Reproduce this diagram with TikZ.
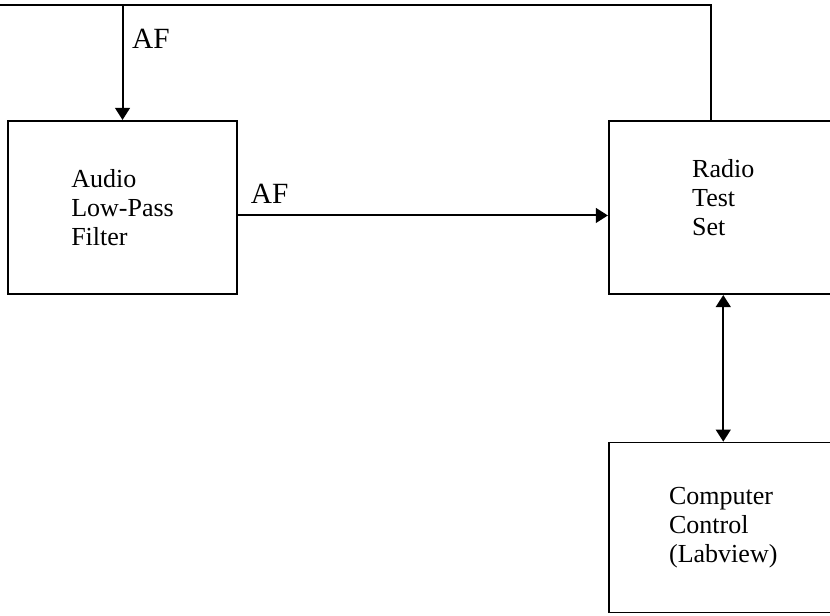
\documentclass[tikz,border=0pt]{standalone}
\usepackage{fontspec}
\setmainfont{Liberation Serif}
\usepackage{tikz}
\usetikzlibrary{arrows.meta,positioning}

\begin{document}
\begin{tikzpicture}[
  node distance=110pt and 277.5pt,
  block/.style={draw,line width=1.3pt,minimum width=171.75pt,minimum height=130pt,
    align=left,font=\fontsize{19.5}{21.75}\selectfont},
  lbl/.style={font=\fontsize{22}{24}\selectfont,inner sep=0pt},
  arrow/.style={-{Triangle[length=9pt,width=11pt]},line width=1.5pt},
  twoway/.style={{Triangle[length=9pt,width=11pt]}-{Triangle[length=9pt,width=11pt]},line width=1.6pt}
]
\useasboundingbox (0,0) rectangle (622.5pt,-461.25pt);
\clip (0,0) rectangle (622.5pt,-461.25pt);
\node[block] (filter) at (91.9pt,-155.6pt) {Audio\\Low-Pass\\Filter};
\node[block,right=of filter] (radio) {Radio\\Test\\Set\\[-7pt]};
\node[block,below=of radio,minimum height=127.5pt] (pc) {Computer\\Control\\(Labview)};
\coordinate (top) at (0,-3.75pt);
% feedback loop over the top
\draw[arrow] ([xshift=-9pt]radio.north) |- (top) -| (filter.north);
\node[lbl,anchor=base west] (af1) at ([xshift=7pt,yshift=53.25pt]filter.north) {AF};
% filter output to radio
\draw[arrow] ([yshift=-6pt]filter.east) coordinate (out) -- (out -| radio.west)
  node[lbl,anchor=base west,pos=0,xshift=9pt,yshift=9pt] (af2) {AF};
\draw[twoway] (radio) -- (pc);
\end{tikzpicture}
\end{document}
